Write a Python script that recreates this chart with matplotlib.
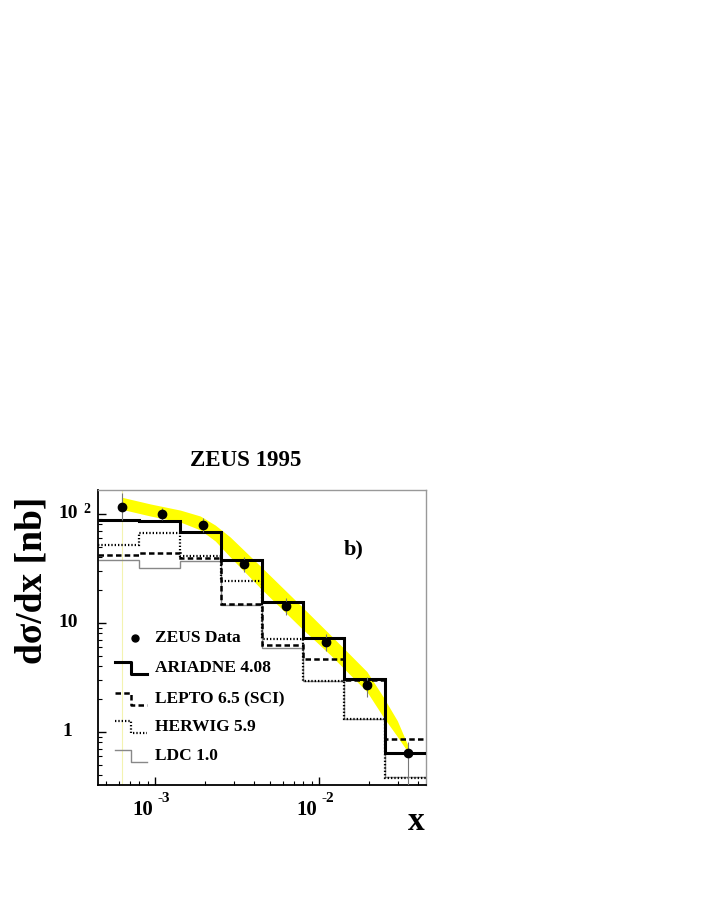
import matplotlib
matplotlib.use('Agg')
import matplotlib.pyplot as plt
import matplotlib.transforms as mtransforms
import numpy as np

plt.rcParams['font.family'] = ['Liberation Serif', 'DejaVu Serif']
plt.rcParams['font.weight'] = 'bold'

# bin edges in x (8 bins, equal in log x)
bin_edges = [4.47e-4, 7.94e-4, 1.41e-3, 2.51e-3, 4.47e-3, 7.94e-3, 1.41e-2, 2.51e-2, 4.47e-2]

# ZEUS data points
data_x = [6.27e-4, 1.10e-3, 1.94e-3, 3.49e-3, 6.30e-3, 1.10e-2, 1.95e-2, 3.49e-2]
data_y = [116, 98.7, 78.7, 34.8, 14.3, 6.69, 2.68, 0.641]
data_lo = [88, 88, 68, 29, 11.8, 5.5, 2.1, 0.32]
data_hi = [155, 112, 91, 40, 16.8, 7.9, 3.2, 0.80]

# systematic band (yellow)
band_x = [6.21e-4, 9.33e-4, 1.42e-3, 1.88e-3, 2.32e-3, 2.86e-3, 4.37e-3, 7.66e-3,
          1.17e-2, 1.95e-2, 2.45e-2, 2.99e-2, 3.49e-2]
band_lo = [110, 95.3, 84, 71, 56.2, 40.1, 20.8, 9.12, 5.05, 2.33, 1.37, 0.902, 0.641]
band_hi = [142, 123, 108, 95.3, 78.7, 61.2, 33.1, 14.5, 7.71, 3.56, 2.09, 1.26, 0.73]

# Monte Carlo predictions
ariadne = [88, 86, 67.5, 37.6, 15.6, 7.28, 3.04, 0.634]
lepto = [41.8, 43.9, 39, 14.8, 6.24, 4.64, 3.0, 0.851]
herwig = [51.6, 66.1, 41, 24.3, 7.08, 2.94, 1.31, 0.378]
ldc = [37.6, 31.6, 37, 14.5, 5.82, 2.94, 1.31, 0.38]

fig = plt.figure(figsize=(7.08, 9.17), dpi=100)
ax = fig.add_axes([0.1384, 0.1439, 0.4633, 0.3217])
ax.set_xscale('log')
ax.set_yscale('log')
ax.set_xlim(bin_edges[0], bin_edges[-1])
ax.set_ylim(0.324, 165)

# faint vertical line left from the band
ax.axvline(data_x[0], color='#f3f3b0', lw=0.8, zorder=0)

ax.fill_between(band_x, band_lo, band_hi, color='#ffff00', lw=0, zorder=1)

ax.stairs(ldc, bin_edges, baseline=None, color='#888888', lw=1.0, zorder=2)
ax.stairs(herwig, bin_edges, baseline=None, color='black', lw=1.6,
          ls=(0, (0.6, 0.9)), zorder=3)
ax.stairs(lepto, bin_edges, baseline=None, color='black', lw=1.8,
          ls=(0, (2.2, 1.3)), zorder=4)
ax.stairs(ariadne, bin_edges, baseline=None, color='black', lw=2.2, zorder=5)

yerr = [np.array(data_y) - np.array(data_lo), np.array(data_hi) - np.array(data_y)]
ax.errorbar(data_x, data_y, yerr=yerr, fmt='none', ecolor='#777777', elinewidth=0.8,
            capsize=0, zorder=6)
ax.plot(data_x, data_y, 'o', color='black', ms=6, zorder=7)

# frame: left/bottom black, top/right grey
for side in ['top', 'right']:
    ax.spines[side].set_color('#999999')
    ax.spines[side].set_linewidth(1.0)
for side in ['left', 'bottom']:
    ax.spines[side].set_color('black')
    ax.spines[side].set_linewidth(1.3)

ax.tick_params(which='both', direction='in', top=False, right=False,
               labelbottom=False, labelleft=False)
ax.tick_params(which='major', length=6, width=1.0)
ax.tick_params(which='minor', length=3, width=0.8)
ax.set_xticks([1e-3, 1e-2])
ax.set_yticks([1, 10, 100])

# tick labels, ROOT style
tb = mtransforms.blended_transform_factory(ax.transData, ax.transAxes)
shift_l = mtransforms.offset_copy(tb, fig=fig, x=-2, y=0, units='dots')
shift_r = mtransforms.offset_copy(tb, fig=fig, x=2, y=0, units='dots')
for xv, exp in [(1e-3, '-3'), (1e-2, '-2')]:
    ax.text(xv, -0.05, '10', transform=shift_l, ha='right', va='top', fontsize=15,
            fontweight='bold')
    ax.text(xv, -0.022, exp, transform=shift_r, ha='left', va='top', fontsize=11,
            fontweight='bold')
lb = mtransforms.blended_transform_factory(ax.transAxes, ax.transData)
ax.text(-0.06, 100, '10', transform=lb, ha='right', va='center', fontsize=14,
        fontweight='bold')
ax.text(-0.045, 110, '2', transform=lb, ha='left', va='center', fontsize=10,
        fontweight='bold')
ax.text(-0.06, 10, '10', transform=lb, ha='right', va='center', fontsize=14,
        fontweight='bold')
ax.text(-0.078, 1, '1', transform=lb, ha='right', va='center', fontsize=14,
        fontweight='bold')

ax.text(0.45, 1.065, 'ZEUS 1995', transform=ax.transAxes, ha='center', va='bottom',
        fontsize=16.5, fontweight='bold')
ax.text(0.75, 0.80, 'b)', transform=ax.transAxes, ha='left', va='center',
        fontsize=16, fontweight='bold')
ax.text(-0.2, 0.695, 'd\u03c3/dx [nb]', transform=ax.transAxes, rotation=90,
        ha='center', va='center', fontsize=27, fontweight='bold')
ax.text(0.97, -0.125, 'x', transform=ax.transAxes, ha='center', va='center',
        fontsize=24, fontweight='bold')

# legend drawn by hand
leg_labels = ['ZEUS Data', 'ARIADNE 4.08', 'LEPTO 6.5 (SCI)', 'HERWIG 5.9', 'LDC 1.0']
leg_styles = [None,
              dict(color='black', lw=2.2),
              dict(color='black', lw=1.8, ls=(0, (2.2, 1.3))),
              dict(color='black', lw=1.6, ls=(0, (0.6, 0.9))),
              dict(color='#888888', lw=1.0)]
leg_y = [0.498, 0.397, 0.292, 0.197, 0.098]
for lab, st, yy in zip(leg_labels, leg_styles, leg_y):
    if st is None:
        ax.plot([0.113], [yy], 'o', color='black', ms=5, transform=ax.transAxes)
    else:
        ax.plot([0.052, 0.10, 0.10, 0.149], [yy + 0.02, yy + 0.02, yy - 0.02, yy - 0.02],
                transform=ax.transAxes, **st)
    ax.text(0.174, yy, lab, transform=ax.transAxes, ha='left', va='center',
            fontsize=12.5, fontweight='bold')

fig.savefig('out.png', dpi=100)
